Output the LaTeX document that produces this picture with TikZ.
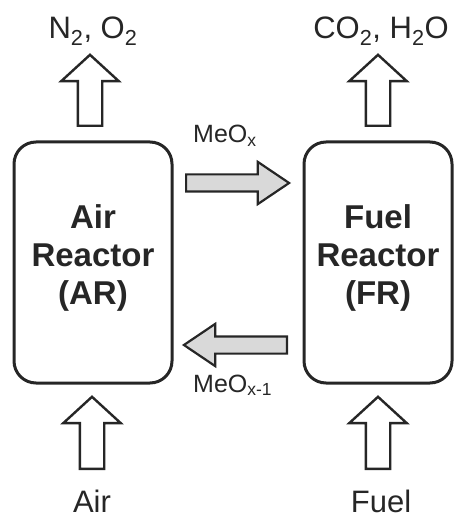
\documentclass[tikz,border=0pt]{standalone}
\usepackage{fontspec}
\setmainfont{Liberation Sans}
\usetikzlibrary{shapes.arrows}

\begin{document}
\begin{tikzpicture}[x=1pt,y=-1pt,
  reactor/.style={draw=black!85,line width=3pt,rounded corners=22pt,minimum width=#1,minimum height=241pt,inner sep=0pt},
  upflow/.style={draw=black!85,line width=2.4pt,fill=white,single arrow,inner xsep=0pt,inner ysep=11pt,single arrow head extend=16.5pt,minimum width=55pt,minimum height=71pt,single arrow tip angle=95,rotate=90,anchor=tail},
  loop/.style={draw=black!85,line width=2.2pt,fill=black!15,single arrow,inner xsep=0pt,inner ysep=7.5pt,single arrow head extend=12.5pt,minimum width=40pt,minimum height=103pt,single arrow tip angle=68,anchor=tail},
  lbl/.style={font=\fontsize{31}{36}\selectfont,text=black!85,anchor=base,inner sep=0pt},
  small/.style={font=\fontsize{25}{29}\selectfont,text=black!85,anchor=base west,inner sep=0pt}]
\useasboundingbox (0,0) rectangle (454,518);
% reactors
\node[reactor=158pt] (ar) at (93,262.5) {};
\node[reactor=148pt] (fr) at (378,262.5) {};
\node[font=\bfseries\fontsize{33}{38}\selectfont,align=center,text=black!85] (artxt) at (93,258) {Air\\Reactor\\(AR)};
\node[font=\bfseries\fontsize{33}{38}\selectfont,align=center,text=black!85] (frtxt) at (378,258) {Fuel\\Reactor\\(FR)};
% gas in and out
\foreach \n/\x in {aro/90,fro/378} {\node[upflow] (\n) at (\x,127) {};}
\foreach \n/\x in {ari/92,fri/378} {\node[upflow,minimum height=72pt] (\n) at (\x,470) {};}
\node[lbl] (gasar) at (93,39) {N\textsubscript{2}, O\textsubscript{2}};
\node[lbl] (gasfr) at (381,39) {CO\textsubscript{2}, H\textsubscript{2}O};
\node[lbl] (air) at (92,512) {Air};
\node[lbl] (fuel) at (381,512) {Fuel};
% oxygen carrier loop
\node[loop] (ox) at (185,183) {};
\node[loop,rotate=180] (red) at (288,345) {};
\node[small] (meox) at (193,143) {MeO\textsubscript{x}};
\node[small] (meored) at (193,392) {MeO\textsubscript{x-1}};
\end{tikzpicture}
\end{document}
